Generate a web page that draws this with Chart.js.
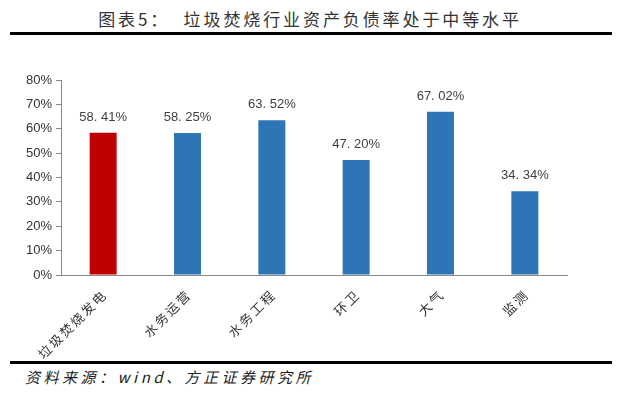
<!DOCTYPE html>
<html>
<head>
<meta charset="utf-8">
<script src="https://cdn.jsdelivr.net/npm/chart.js@4"></script>
<style>
	body { margin: 0; background: #fff; }
	#wrap { position: relative; width: 620px; height: 396px; overflow: hidden; }
	#title { position: absolute; left: 0; width: 620px; top: 6px; text-align: center; font-family: "Noto Sans CJK SC"; font-size: 17px; letter-spacing: 2.9px; color: #333; }
	.rule { position: absolute; left: 10px; width: 602px; height: 3px; background: #000; }
	#source { position: absolute; left: 25px; top: 366px; font-family: "Noto Sans CJK SC"; font-style: italic; font-size: 15px; letter-spacing: 3.5px; color: #222; }
	#box { position: absolute; left: 0; top: 40px; width: 620px; height: 320px; }
</style>
</head>
<body>
<div id="wrap">
	<div id="title">图表5：&nbsp;&nbsp;垃圾焚烧行业资产负债率处于中等水平</div>
	<div class="rule" style="top:32px"></div>
	<div id="box"><canvas id="bar-chart" width="620" height="320"></canvas></div>
	<div class="rule" style="top:361px"></div>
	<div id="source">资料来源：wind、方正证券研究所</div>
</div>
<script>
var categoryList = ['垃圾焚烧发电', '水务运营', '水务工程', '环卫', '大气', '监测'];
var ratioList = [58.41, 58.25, 63.52, 47.20, 67.02, 34.34];
var barColorList = ['#C00000', '#2E75B6', '#2E75B6', '#2E75B6', '#2E75B6', '#2E75B6'];
var yTickList = [0, 10, 20, 30, 40, 50, 60, 70, 80];

// value label over each bar
var valueLabel = {
	id: 'valueLabel',
	afterDatasetsDraw: function(chart) {
		var ctx = chart.ctx;
		var meta = chart.getDatasetMeta(0);
		ctx.save();
		ctx.font = '13px "Liberation Sans", Arial';
		ctx.fillStyle = '#404040';
		ctx.textAlign = 'center';
		ctx.textBaseline = 'bottom';
		meta.data.forEach(function(bar, i) {
			var txt = ratioList[i].toFixed(2).replace('.', '. ') + '%';
			ctx.fillText(txt, bar.x, bar.y - 9);
		});
		ctx.restore();
	}
};

const ctx = document.getElementById('bar-chart').getContext('2d');
const myChart = new Chart(ctx, {
	type: 'bar',
	data: {
		labels: categoryList,
		datasets: [{
			data: ratioList,
			backgroundColor: barColorList,
			barPercentage: 0.32,
			categoryPercentage: 1
		}]
	},
	options: {
		responsive: false,
		animation: false,
		layout: { padding: { top: 40, right: 53, left: 0, bottom: 0 } },
		plugins: { legend: { display: false }, tooltip: { enabled: false } },
		scales: {
			x: {
				grid: { display: false },
				border: { display: true, color: '#888', width: 1 },
				ticks: {
					minRotation: 45,
					maxRotation: 45,
					padding: 5,
					color: '#333',
					font: { family: 'Noto Sans CJK SC', size: 13 },
					callback: function(v, i) { return categoryList[i].split('').join('\u2006'); }
				},
				afterFit: function(axis) { axis.height = 85; }
			},
			y: {
				min: 0,
				max: 80,
				afterBuildTicks: function(axis) {
					axis.ticks = yTickList.map(function(v) { return { value: v }; });
				},
				grid: { drawOnChartArea: false, drawTicks: true, tickLength: 5, color: '#888' },
				border: { color: '#888', width: 1 },
				ticks: {
					padding: 4,
					color: '#333',
					font: { family: 'Liberation Sans', size: 13 },
					callback: function(v) { return v + '%'; }
				},
				afterFit: function(axis) { axis.width = 61; }
			}
		}
	},
	plugins: [valueLabel]
});
</script>
</body>
</html>
